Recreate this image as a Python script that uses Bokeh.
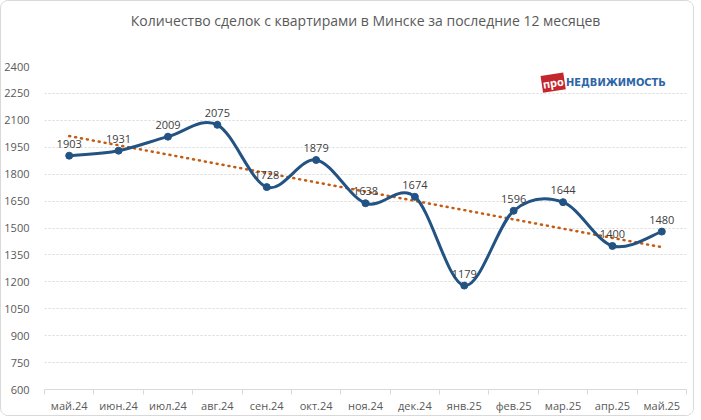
import numpy as np
from bokeh.plotting import figure
from bokeh.models import FixedTicker, Range1d, Label, ColumnDataSource, Title
from bokeh.core.properties import value
from bokeh.embed import file_html
from bokeh.resources import INLINE

# ---- data ----
months = ["май.24", "июн.24", "июл.24", "авг.24", "сен.24", "окт.24", "ноя.24",
          "дек.24", "янв.25", "фев.25", "мар.25", "апр.25", "май.25"]
deals = [1903, 1931, 2009, 2075, 1728, 1879, 1638, 1674, 1179, 1596, 1644, 1400, 1480]
y_ticks = [600, 750, 900, 1050, 1200, 1350, 1500, 1650, 1800, 1950, 2100, 2250, 2400]
title_text = "Количество сделок с квартирами в Минске за последние 12 месяцев"

FONT = "Open Sans"
TXT = "#595959"
LINE = "#225383"
TREND = "#C55A11"
GRID = "#D9D9D9"

n = len(months)
xs = np.arange(n, dtype=float)
ys = np.array(deals, dtype=float)

# smoothed curve (Catmull-Rom style bezier segments, as Excel's smoothed line)
x0, y0, x1, y1, cx0, cy0, cx1, cy1 = [], [], [], [], [], [], [], []
for i in range(n - 1):
    pm = max(i - 1, 0)
    pp = min(i + 2, n - 1)
    x0.append(xs[i]); y0.append(ys[i])
    x1.append(xs[i + 1]); y1.append(ys[i + 1])
    cx0.append(xs[i] + (xs[i + 1] - xs[pm]) / 6.0)
    cy0.append(ys[i] + (ys[i + 1] - ys[pm]) / 6.0)
    cx1.append(xs[i + 1] - (xs[pp] - xs[i]) / 6.0)
    cy1.append(ys[i + 1] - (ys[pp] - ys[i]) / 6.0)

# linear trend
k, b = np.polyfit(xs, ys, 1)
trend = k * xs + b

p = figure(frame_width=642, frame_height=323, output_backend="svg", toolbar_location=None,
           x_range=Range1d(-0.5, n - 0.5), y_range=Range1d(600, 2400),
           min_border_left=36, min_border_right=7, min_border_top=0,
           min_border_bottom=10)
p.background_fill_color = "white"
p.border_fill_color = "white"
p.outline_line_color = None
p.styles = {"border": "1px solid #D9D9D9", "border-radius": "8px", "overflow": "hidden"}

# blank spacer between the title and the plotting frame
p.add_layout(Title(text=" ", text_font=FONT, text_font_size="14px", standoff=9), "above")

p.title.text = title_text
p.title.align = "center"
p.title.text_font = FONT
p.title.text_font_size = "14px"
p.title.text_font_style = "normal"
p.title.text_color = TXT
p.title.standoff = 14

# y axis
p.yaxis.ticker = FixedTicker(ticks=y_ticks)
p.yaxis.axis_line_color = None
p.yaxis.major_tick_line_color = None
p.yaxis.minor_tick_line_color = None
p.yaxis.major_label_text_font = FONT
p.yaxis.major_label_text_font_size = "11px"
p.yaxis.major_label_text_color = TXT
p.yaxis.major_label_standoff = 9

# x axis with ticks between categories
p.xaxis.ticker = FixedTicker(ticks=list(xs), minor_ticks=[v - 0.5 for v in xs] + [xs[-1] + 0.5])
p.xaxis.major_label_overrides = {int(i): m for i, m in enumerate(months)}
p.xaxis.axis_line_color = GRID
p.xaxis.major_tick_line_color = None
p.xaxis.major_tick_out = 0
p.xaxis.major_tick_in = 0
p.xaxis.minor_tick_line_color = GRID
p.xaxis.minor_tick_out = 5
p.xaxis.minor_tick_in = 0
p.xaxis.major_label_text_font = FONT
p.xaxis.major_label_text_font_size = "11px"
p.xaxis.major_label_text_color = TXT
p.xaxis.major_label_standoff = 3

p.xgrid.grid_line_color = None
p.ygrid.grid_line_color = GRID
p.ygrid.grid_line_dash = "2 2"
p.ygrid.grid_line_width = 1

# trend line
p.line(xs, trend, line_color=TREND, line_width=2.5, line_dash="1 5", line_cap="round")

# smoothed series
p.bezier(x0=x0, y0=y0, x1=x1, y1=y1, cx0=cx0, cy0=cy0, cx1=cx1, cy1=cy1,
         line_color=LINE, line_width=3)
p.scatter(xs, ys, size=7, fill_color=LINE, line_color=LINE)

# data labels
src = ColumnDataSource(dict(x=xs, y=ys, t=[str(v) for v in deals]))
p.text(x="x", y="y", text="t", source=src, text_font=value(FONT), text_font_size="11px",
       text_color="#404040", text_align="center", text_baseline="bottom", y_offset=-8)

# logo
p.add_layout(Label(x=9.8, y=2310, text="про", text_font=FONT, text_font_size="11px",
                   text_font_style="bold", text_color="white", text_align="center",
                   text_baseline="middle", angle=0.15, background_fill_color="#C4262E",
                   padding=1))
p.add_layout(Label(x=10.06, y=2312, text="НЕДВИЖИМОСТЬ",
                   text_font="DejaVu Sans Condensed, Liberation Sans, sans-serif",
                   text_font_size="11px", text_font_style="bold", text_color="#2E64A8",
                   text_align="left", text_baseline="middle"))

open("out.html", "w").write(file_html(p, INLINE))
